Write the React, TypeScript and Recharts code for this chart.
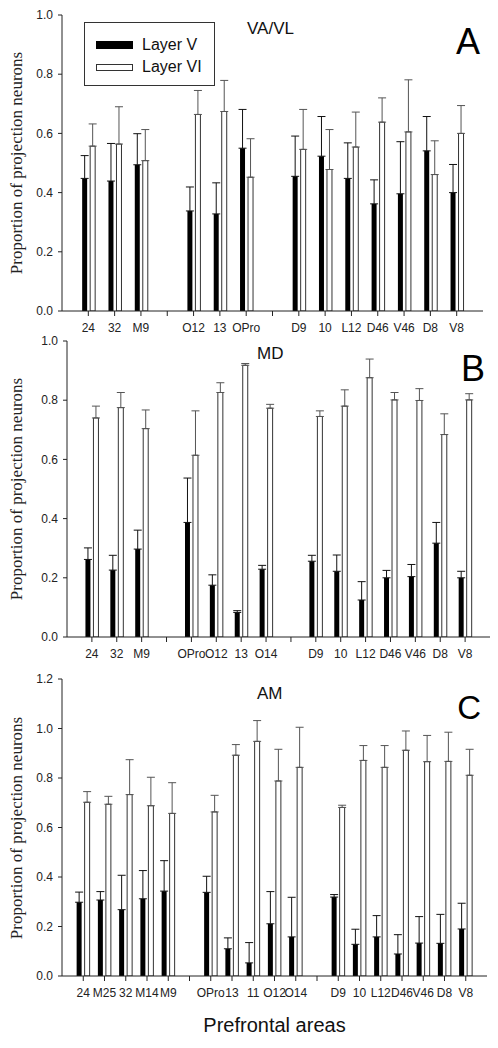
import React from 'react';
import { BarChart, Bar, XAxis, YAxis, ErrorBar, Legend } from 'recharts';

const FONT = '"Liberation Sans", Arial, Helvetica, sans-serif';
const SERIF = '"Liberation Serif", "Times New Roman", serif';

// Panel A (VA/VL)
const areasA = ['24', '32', 'M9', '', 'O12', '13', 'OPro', '', 'D9', '10', 'L12', 'D46', 'V46', 'D8', 'V8'];
const layer5A = [0.448, 0.439, 0.494, null, 0.338, 0.328, 0.55, null, 0.455, 0.523, 0.448, 0.362, 0.396, 0.541, 0.4];
const layer5ErrA = [0.077, 0.127, 0.105, null, 0.081, 0.105, 0.131, null, 0.136, 0.134, 0.12, 0.081, 0.176, 0.116, 0.095];
const layer6A = [0.557, 0.564, 0.508, null, 0.664, 0.674, 0.452, null, 0.546, 0.478, 0.554, 0.638, 0.605, 0.461, 0.6];
const layer6ErrA = [0.075, 0.126, 0.105, null, 0.081, 0.105, 0.13, null, 0.135, 0.135, 0.118, 0.082, 0.176, 0.114, 0.094];

// Panel B (MD)
const areasB = ['24', '32', 'M9', '', 'OPro', 'O12', '13', 'O14', '', 'D9', '10', 'L12', 'D46', 'V46', 'D8', 'V8'];
const layer5B = [0.262, 0.226, 0.297, null, 0.387, 0.175, 0.083, 0.229, null, 0.256, 0.222, 0.125, 0.2, 0.204, 0.317, 0.2];
const layer5ErrB = [0.039, 0.05, 0.064, null, 0.15, 0.035, 0.006, 0.013, null, 0.02, 0.055, 0.062, 0.025, 0.041, 0.07, 0.022];
const layer6B = [0.74, 0.775, 0.704, null, 0.614, 0.826, 0.918, 0.773, null, 0.745, 0.78, 0.876, 0.801, 0.799, 0.684, 0.801];
const layer6ErrB = [0.04, 0.051, 0.063, null, 0.15, 0.033, 0.006, 0.013, null, 0.019, 0.055, 0.063, 0.025, 0.04, 0.07, 0.021];

// Panel C (AM)
const areasC = ['24', 'M25', '32', 'M14', 'M9', '', 'OPro', '13', '11', 'O12', 'O14', '', 'D9', '10', 'L12', 'D46', 'V46', 'D8', 'V8'];
const layer5C = [0.298, 0.307, 0.268, 0.312, 0.343, null, 0.338, 0.11, 0.053, 0.211, 0.158, null, 0.319, 0.128, 0.158, 0.089, 0.133, 0.132, 0.19];
const layer5ErrC = [0.041, 0.034, 0.139, 0.114, 0.123, null, 0.065, 0.044, 0.082, 0.13, 0.16, null, 0.01, 0.061, 0.086, 0.078, 0.107, 0.117, 0.104];
const layer6C = [0.702, 0.694, 0.733, 0.688, 0.657, null, 0.663, 0.892, 0.948, 0.788, 0.843, null, 0.681, 0.871, 0.843, 0.912, 0.866, 0.867, 0.811];
const layer6ErrC = [0.043, 0.032, 0.141, 0.115, 0.124, null, 0.067, 0.043, 0.084, 0.128, 0.162, null, 0.009, 0.06, 0.088, 0.078, 0.106, 0.118, 0.105];

const ticksAB = [0, 0.2, 0.4, 0.6, 0.8, 1.0];
const ticksC = [0, 0.2, 0.4, 0.6, 0.8, 1.0, 1.2];

const seriesNames = ['Layer V', 'Layer VI'];

function LegendBox() {
  return (
    <svg width={131} height={64} style={{ display: 'block' }}>
      <rect x={0.5} y={0.5} width={130} height={63} fill="#fff" stroke="#333" strokeWidth={1} />
      <rect x={12} y={19} width={37} height={8} fill="#000" />
      <rect x={12.5} y={42.5} width={36} height={6} fill="#fff" stroke="#333" strokeWidth={1} />
      <text x={58} y={28} fontFamily={FONT} fontSize={16} fill="#111">{seriesNames[0]}</text>
      <text x={58} y={50} fontFamily={FONT} fontSize={16} fill="#111">{seriesNames[1]}</text>
    </svg>
  );
}

type PanelProps = {
  labels: string[];
  v5: (number | null)[];
  e5: (number | null)[];
  v6: (number | null)[];
  e6: (number | null)[];
  yMax: number;
  yTicks: number[];
  top: number;
  yAxisWidth: number;
  marginRight: number;
  plotHeight: number;
  legend?: boolean;
};

function Panel({ labels, v5, e5, v6, e6, yMax, yTicks, top, yAxisWidth, marginRight, plotHeight, legend }: PanelProps) {
  const rows = labels.map((label, i) => ({
    key: 'k' + i,
    label,
    v5: v5[i],
    e5: v5[i] == null ? null : [0, e5[i]],
    v6: v6[i],
    e6: v6[i] == null ? null : [0, e6[i]],
  }));
  const labelOf: Record<string, string> = {};
  rows.forEach((r) => (labelOf[r.key] = r.label));
  const plotW = 498 - yAxisWidth - marginRight;
  const pad = plotW / (labels.length + 1) / 2;
  const height = 15 + plotHeight + 30;
  return (
    <div style={{ position: 'absolute', left: 0, top, width: 498, height }}>
      <BarChart
        width={498}
        height={height}
        data={rows}
        margin={{ top: 15, right: marginRight, bottom: 0, left: 0 }}
        barSize={5}
        barGap={3}
      >
        <XAxis
          dataKey="key"
          interval={0}
          padding={{ left: pad, right: pad }}
          tickSize={5}
          tickMargin={7}
          tickFormatter={(k: string) => labelOf[k]}
          tick={{ fontSize: 12, fill: '#222', fontFamily: FONT }}
          stroke="#222"
          height={30}
        />
        <XAxis xAxisId="top" dataKey="key" orientation="top" tick={false} tickLine={false} height={0} stroke="#333" />
        <YAxis
          domain={[0, yMax]}
          ticks={yTicks}
          allowDataOverflow
          width={yAxisWidth}
          tickSize={4}
          tickMargin={5}
          tickFormatter={(v: number) => v.toFixed(1)}
          tick={{ fontSize: 12, fill: '#222', fontFamily: FONT }}
          stroke="#222"
        />
        <YAxis yAxisId="r" orientation="right" width={0} tick={false} tickLine={false} stroke="#333" domain={[0, yMax]} />
        {legend && (
          <Legend
            layout="vertical"
            align="center"
            verticalAlign="middle"
            wrapperStyle={{ left: 84, top: 22, width: 131, height: 64 }}
            content={() => <LegendBox />}
          />
        )}
        <Bar dataKey="v5" name={seriesNames[0]} fill="#000" isAnimationActive={false}>
          <ErrorBar dataKey="e5" direction="y" width={4} stroke="#111" strokeWidth={1} />
        </Bar>
        <Bar dataKey="v6" name={seriesNames[1]} fill="#fff" stroke="#333" strokeWidth={1} isAnimationActive={false}>
          <ErrorBar dataKey="e6" direction="y" width={4} stroke="#555" strokeWidth={1} />
        </Bar>
      </BarChart>
    </div>
  );
}

const yTitle = 'Proportion of projection neurons';

export default function App() {
  return (
    <div style={{ position: 'absolute', left: 0, top: 0, width: 498, height: 1048, background: '#fff', overflow: 'hidden' }}>
      <Panel labels={areasA} v5={layer5A} e5={layer5ErrA} v6={layer6A} e6={layer6ErrA} yMax={1.0} yTicks={ticksAB}
        top={0} yAxisWidth={62} marginRight={15} plotHeight={296} legend />
      <Panel labels={areasB} v5={layer5B} e5={layer5ErrB} v6={layer6B} e6={layer6ErrB} yMax={1.0} yTicks={ticksAB}
        top={326} yAxisWidth={67} marginRight={8} plotHeight={296} />
      <Panel labels={areasC} v5={layer5C} e5={layer5ErrC} v6={layer6C} e6={layer6ErrC} yMax={1.2} yTicks={ticksC}
        top={664} yAxisWidth={62} marginRight={11} plotHeight={297} />
      <svg width={498} height={1048} style={{ position: 'absolute', left: 0, top: 0, pointerEvents: 'none' }}>
        <text x={22} y={163} transform="rotate(-90, 22, 163)" textAnchor="middle" fontFamily={SERIF} fontSize={17} fill="#222">{yTitle}</text>
        <text x={22} y={489} transform="rotate(-90, 22, 489)" textAnchor="middle" fontFamily={SERIF} fontSize={17} fill="#222">{yTitle}</text>
        <text x={22} y={828} transform="rotate(-90, 22, 828)" textAnchor="middle" fontFamily={SERIF} fontSize={17} fill="#222">{yTitle}</text>
        <text x={247} y={34} fontFamily={FONT} fontSize={17} fill="#111">VA/VL</text>
        <text x={257} y={359} fontFamily={FONT} fontSize={17} fill="#111">MD</text>
        <text x={257} y={699} fontFamily={FONT} fontSize={17} fill="#111">AM</text>
        <text x={480} y={54} textAnchor="end" fontFamily={FONT} fontSize={36} fill="#000">A</text>
        <text x={485} y={381} textAnchor="end" fontFamily={FONT} fontSize={36} fill="#000">B</text>
        <text x={481} y={719} textAnchor="end" fontFamily={FONT} fontSize={33} fill="#000">C</text>
        <text x={274.5} y={1032} textAnchor="middle" fontFamily={FONT} fontSize={20} fill="#111">Prefrontal areas</text>
      </svg>
    </div>
  );
}
